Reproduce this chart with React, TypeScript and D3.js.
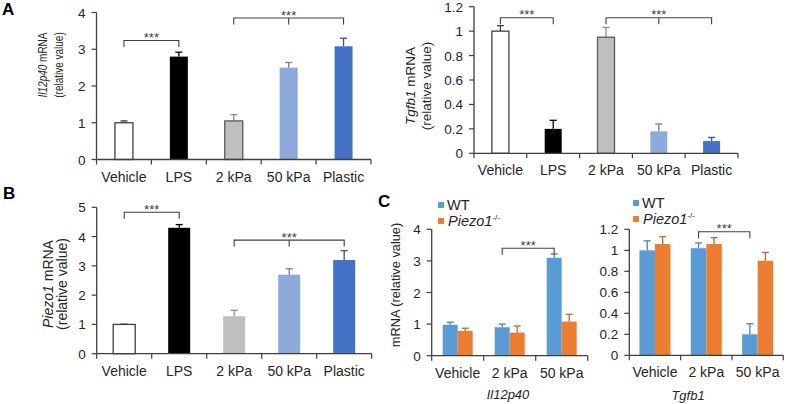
import React from "react";
import * as d3 from "d3";

// ---------- data ----------
const catsA = ["Vehicle", "LPS", "2 kPa", "50 kPa", "Plastic"];
const il12Vals = [1.0, 2.8, 1.05, 2.5, 3.08];
const il12Err = [0.05, 0.12, 0.17, 0.14, 0.22];
const il12Ticks = [0, 1, 2, 3, 4];

const tgfbVals = [1.0, 0.2, 0.95, 0.18, 0.1];
const tgfbErr = [0.045, 0.07, 0.08, 0.06, 0.03];
const tgfbTicks = [0, 0.2, 0.4, 0.6, 0.8, 1.0, 1.2];

const piezoVals = [1.0, 4.3, 1.28, 2.7, 3.2];
const piezoErr = [0.01, 0.11, 0.2, 0.2, 0.32];
const piezoTicks = [0, 1, 2, 3, 4, 5];

const catsC = ["Vehicle", "2 kPa", "50 kPa"];
const seriesC = ["WT", "Piezo1"];
const cIl12WT = [0.98, 0.9, 3.1];
const cIl12WTErr = [0.08, 0.1, 0.12];
const cIl12KO = [0.78, 0.73, 1.08];
const cIl12KOErr = [0.09, 0.21, 0.23];
const cIl12Ticks = [0, 1, 2, 3, 4];

const cTgfbWT = [1.0, 1.02, 0.2];
const cTgfbWTErr = [0.09, 0.05, 0.1];
const cTgfbKO = [1.06, 1.06, 0.9];
const cTgfbKOErr = [0.07, 0.06, 0.08];
const cTgfbTicks = [0, 0.2, 0.4, 0.6, 0.8, 1.0, 1.2];

const colorsA = ["#ffffff", "#000000", "#bfbfbf", "#8eaadb", "#4472c4"];
const colorsC = ["#5b9bd5", "#ed7d31"];

const FONT = "'Liberation Sans', Arial, Helvetica, sans-serif";
const AX = "#404040";

type Bracket = { a: number; b: number; level: number; mid?: number; sa?: number; sb?: number };

const fmt = (v: number) => String(+v.toFixed(1));

function Axes({ x, y, cats, ticks }: any) {
  const [x0, x1] = x.range();
  const y0 = y(0);
  const yTop = y(ticks[ticks.length - 1]);
  return (
    <g>
      <line x1={x0} x2={x0} y1={yTop} y2={y0} stroke={AX} strokeWidth={1.3} />
      <line x1={x0} x2={x1} y1={y0} y2={y0} stroke={AX} strokeWidth={1.3} />
      {ticks.map((t: number) => (
        <g key={t}>
          <line x1={x0 - 5} x2={x0} y1={y(t)} y2={y(t)} stroke={AX} strokeWidth={1.2} />
          <text x={x0 - 11} y={y(t) + 5} textAnchor="end" fontSize={13.5} fill="#262626">
            {fmt(t)}
          </text>
        </g>
      ))}
      {d3.range(cats.length + 1).map((i) => {
        const xx = i < cats.length ? x(cats[i]) : x1;
        return <line key={i} x1={xx} x2={xx} y1={y0} y2={y0 + 5} stroke={AX} strokeWidth={1.2} />;
      })}
      {cats.map((c: string) => (
        <text key={c} x={x(c) + x.bandwidth() / 2} y={y0 + 22} textAnchor="middle" fontSize={14} fill="#262626">
          {c}
        </text>
      ))}
    </g>
  );
}

function ErrBar({ cx, yv, ye, color }: any) {
  return (
    <g stroke={color} strokeWidth={1.3}>
      <line x1={cx} x2={cx} y1={yv} y2={ye} />
      <line x1={cx - 3.5} x2={cx + 3.5} y1={ye} y2={ye} />
    </g>
  );
}

function Brackets({ list, pos, y }: any) {
  return (
    <g>
      {list.map((b: Bracket, i: number) => {
        const xa = pos(b.a, b.sa);
        const xb = pos(b.b, b.sb);
        const yy = y(b.level);
        return (
          <g key={i}>
            <path d={`M${xa},${yy + 6.5}V${yy}H${xb}V${yy + 6.5}`} fill="none" stroke={AX} strokeWidth={1.1} />
            {b.mid !== undefined && (
              <line x1={pos(b.mid)} x2={pos(b.mid)} y1={yy} y2={yy + 6.5} stroke={AX} strokeWidth={1.1} />
            )}
            <text x={(xa + xb) / 2} y={yy + 1.5} textAnchor="middle" fontSize={13} fill={AX}>
              ***
            </text>
          </g>
        );
      })}
    </g>
  );
}

function SinglePanel({ x0, x1, yZero, yTopPx, ticks, vals, errs, barW, strokes, brackets }: any) {
  const x = d3.scaleBand().domain(catsA).range([x0, x1]).paddingInner(0).paddingOuter(0);
  const y = d3.scaleLinear().domain([0, ticks[ticks.length - 1]]).range([yZero, yTopPx]);
  const cx = (i: number) => (x(catsA[i]) as number) + x.bandwidth() / 2;
  return (
    <g>
      {catsA.map((c, i) => (
        <g key={c}>
          <ErrBar cx={cx(i)} yv={y(vals[i])} ye={y(vals[i] + errs[i])} color={i === 0 ? AX : d3.color(colorsA[i])!.darker(0.8).formatHex()} />
          <rect
            x={cx(i) - barW / 2}
            y={y(vals[i])}
            width={barW}
            height={y(0) - y(vals[i])}
            fill={colorsA[i]}
            stroke={strokes[i] || "none"}
            strokeWidth={strokes[i] ? 1.3 : 0}
          />
        </g>
      ))}
      <Axes x={x} y={y} cats={catsA} ticks={ticks} />
      <Brackets list={brackets} pos={(i: number) => cx(i)} y={y} />
    </g>
  );
}

function GroupPanel({ x0, x1, yZero, yTopPx, ticks, wt, wtErr, ko, koErr, barW, brackets }: any) {
  const x = d3.scaleBand().domain(catsC).range([x0, x1]).paddingInner(0).paddingOuter(0);
  const xs = d3.scaleBand().domain(seriesC).range([0, barW * 2]);
  const y = d3.scaleLinear().domain([0, ticks[ticks.length - 1]]).range([yZero, yTopPx]);
  const left = (i: number) => (x(catsC[i]) as number) + x.bandwidth() / 2 - barW;
  const barCx = (i: number, s = 0) => left(i) + (xs(seriesC[s]) as number) + barW / 2;
  const series = [
    { v: wt, e: wtErr },
    { v: ko, e: koErr },
  ];
  return (
    <g>
      {series.map((s, si) =>
        catsC.map((c, i) => (
          <g key={c + si}>
            <ErrBar cx={barCx(i, si)} yv={y(s.v[i])} ye={y(s.v[i] + s.e[i])} color={d3.color(colorsC[si])!.darker(0.5).formatHex()} />
            <rect x={left(i) + (xs(seriesC[si]) as number)} y={y(s.v[i])} width={barW} height={y(0) - y(s.v[i])} fill={colorsC[si]} />
          </g>
        ))
      )}
      <Axes x={x} y={y} cats={catsC} ticks={ticks} />
      <Brackets list={brackets} pos={(i: number, s?: number) => barCx(i, s ?? 0)} y={y} />
    </g>
  );
}

function Legend({ x, y }: any) {
  return (
    <g>
      <rect x={x} y={y - 8} width={6} height={6} fill={colorsC[0]} />
      <text x={x + 9} y={y} fontSize={14.5} fill="#262626">WT</text>
      <rect x={x} y={y + 8} width={6} height={6} fill={colorsC[1]} />
      <text x={x + 10} y={y + 16} fontSize={14.5} fill="#262626">
        <tspan fontStyle="italic">Piezo1</tspan>
        <tspan fontSize={8} dy={-6}>-/-</tspan>
      </text>
    </g>
  );
}

function YLabel2({ x, y, line1It, line1, sx = 1, fs = 13.5, gap = 15 }: any) {
  return (
    <g fontSize={fs} fill="#262626">
      <text transform={`translate(${x},${y}) rotate(-90) scale(${sx},1)`} textAnchor="middle">
        <tspan fontStyle="italic">{line1It}</tspan>
        <tspan>{line1}</tspan>
      </text>
      <text transform={`translate(${x + gap},${y}) rotate(-90) scale(${sx},1)`} textAnchor="middle">
        (relative value)
      </text>
    </g>
  );
}

export default function App() {
  const bracketsIl12: Bracket[] = [
    { a: 0, b: 1, level: 3.24 },
    { a: 2, b: 4, level: 3.85, mid: 3 },
  ];
  const bracketsTgfb: Bracket[] = [
    { a: 0, b: 1, level: 1.11 },
    { a: 2, b: 4, level: 1.11, mid: 3 },
  ];
  const bracketsPiezo: Bracket[] = [
    { a: 0, b: 1, level: 4.83 },
    { a: 2, b: 4, level: 3.88, mid: 3 },
  ];
  const bracketsCIl12: Bracket[] = [{ a: 1, b: 2, level: 3.4, sa: 0, sb: 0 }];
  const bracketsCTgfb: Bracket[] = [{ a: 1, b: 2, level: 1.177, sa: 0, sb: 0 }];

  return (
    <svg
      width={788}
      height={404}
      style={{ position: "absolute", left: 0, top: 0, background: "#fff" }}
      fontFamily={FONT}
    >
      <rect width={788} height={404} fill="#fff" />
      {/* panel letters */}
      <text x={2} y={15} fontSize={17} fontWeight="bold">A</text>
      <text x={3} y={199} fontSize={17} fontWeight="bold">B</text>
      <text x={378} y={207} fontSize={17} fontWeight="bold">C</text>

      <SinglePanel
        x0={96.5} x1={371} yZero={159.5} yTopPx={12.5}
        ticks={il12Ticks} vals={il12Vals} errs={il12Err} barW={18}
        strokes={[AX, null, "#595959", null, null]} brackets={bracketsIl12}
      />
      <YLabel2 x={47} y={65} line1It="Il12p40" line1=" mRNA" fs={12.5} sx={0.8} gap={16} />

      <SinglePanel
        x0={474} x1={738} yZero={153.3} yTopPx={6.7}
        ticks={tgfbTicks} vals={tgfbVals} errs={tgfbErr} barW={17}
        strokes={[AX, null, "#595959", null, null]} brackets={bracketsTgfb}
      />
      <YLabel2 x={415} y={86} line1It="Tgfb1" line1=" mRNA" gap={16} />

      <SinglePanel
        x0={96.7} x1={371.7} yZero={353.7} yTopPx={207.3}
        ticks={piezoTicks} vals={piezoVals} errs={piezoErr} barW={22}
        strokes={[AX, null, null, null, null]} brackets={bracketsPiezo}
      />
      <YLabel2 x={53} y={284} line1It="Piezo1" line1=" mRNA" fs={14} gap={14} />

      <GroupPanel
        x0={431.7} x1={587.7} yZero={355.7} yTopPx={229.3}
        ticks={cIl12Ticks} wt={cIl12WT} wtErr={cIl12WTErr} ko={cIl12KO} koErr={cIl12KOErr}
        barW={15} brackets={bracketsCIl12}
      />
      <text transform="translate(400,285) rotate(-90)" textAnchor="middle" fontSize={12.8} fill="#262626">
        mRNA (relative value)
      </text>
      <text x={508} y={399} textAnchor="middle" fontSize={13} fontStyle="italic" fill="#262626">Il12p40</text>
      <Legend x={438} y={210} />

      <GroupPanel
        x0={629.3} x1={783.3} yZero={355.3} yTopPx={229.3}
        ticks={cTgfbTicks} wt={cTgfbWT} wtErr={cTgfbWTErr} ko={cTgfbKO} koErr={cTgfbKOErr}
        barW={15.5} brackets={bracketsCTgfb}
      />
      <text x={688} y={400} textAnchor="middle" fontSize={13} fontStyle="italic" fill="#262626">Tgfb1</text>
      <Legend x={633} y={208} />
    </svg>
  );
}
